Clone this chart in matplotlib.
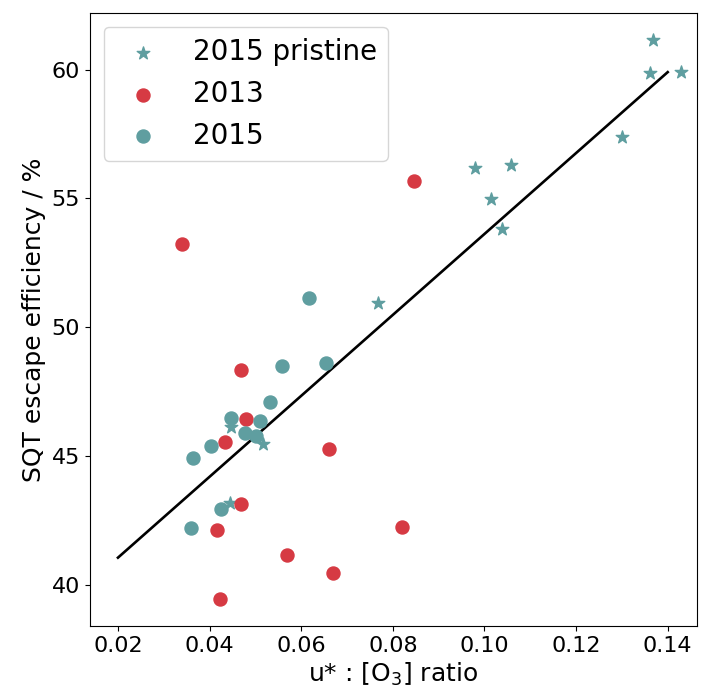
import matplotlib
matplotlib.use("Agg")
import matplotlib.pyplot as plt
import numpy as np

# 2015 pristine (stars)
pristine_x = [0.1368, 0.1362, 0.1429, 0.1300, 0.0979, 0.1058, 0.1014, 0.1038,
              0.0768, 0.0447, 0.0517, 0.0444]
pristine_y = [61.17, 59.88, 59.92, 57.40, 56.19, 56.31, 54.99, 53.83,
              50.95, 46.12, 45.48, 43.17]

# 2013 (red circles)
y2013_x = [0.0340, 0.0846, 0.0469, 0.0480, 0.0434, 0.0661, 0.0469, 0.0416,
           0.0820, 0.0568, 0.0670, 0.0422]
y2013_y = [53.24, 55.69, 48.35, 46.42, 45.53, 45.28, 43.13, 42.12,
           42.26, 41.17, 40.45, 39.44]

# 2015 (teal circles)
y2015_x = [0.0616, 0.0558, 0.0653, 0.0532, 0.0446, 0.0511, 0.0477, 0.0501,
           0.0402, 0.0364, 0.0425, 0.0360]
y2015_y = [51.13, 48.50, 48.61, 47.11, 46.49, 46.37, 45.89, 45.76,
           45.40, 44.91, 42.94, 42.20]

# fit line
fit_x = [0.02, 0.14]
fit_slope = 157.1
fit_intercept = 37.91

teal = '#5f9ea0'
red = '#d63a43'

fig = plt.figure(figsize=(7.05, 6.98), dpi=100)
ax = fig.add_axes([0.1277, 0.1032, 0.8610, 0.8782])

ax.scatter(pristine_x, pristine_y, marker='*', s=90, color=teal, label='2015 pristine', zorder=3)
ax.scatter(y2013_x, y2013_y, marker='o', s=88, color=red, label='2013', zorder=3)
ax.scatter(y2015_x, y2015_y, marker='o', s=88, color=teal, label='2015', zorder=3)
fx = np.array(fit_x)
ax.plot(fx, fit_slope * fx + fit_intercept, color='black', lw=1.9, zorder=2)

ax.set_xlim(0.0139, 0.1464)
ax.set_ylim(38.4, 62.2)
ax.set_xticks([0.02, 0.04, 0.06, 0.08, 0.10, 0.12, 0.14])
ax.set_xticklabels(['0.02', '0.04', '0.06', '0.08', '0.10', '0.12', '0.14'])
ax.set_yticks([40, 45, 50, 55, 60])
ax.tick_params(labelsize=16)
ax.set_xlabel(r'u* : [O$_3$] ratio', fontsize=18)
ax.set_ylabel('SQT escape efficiency / %', fontsize=18)
ax.legend(loc='upper left', fontsize=20)

fig.savefig('out.png', dpi=100)
